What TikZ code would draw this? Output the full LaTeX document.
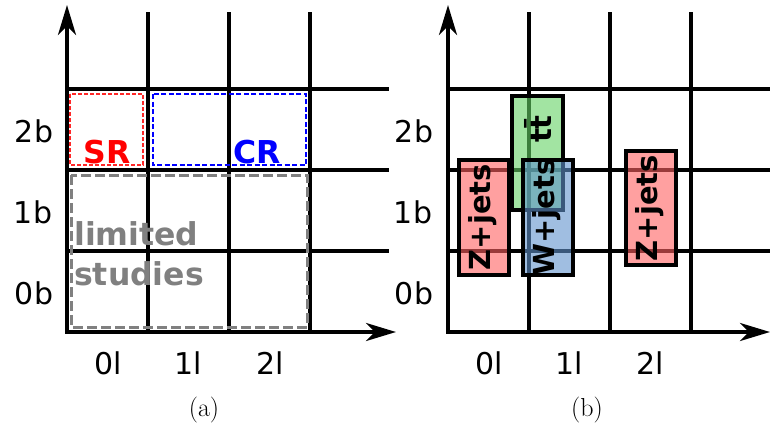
\documentclass[tikz,border=0pt]{standalone}
\usepackage{fontspec}
\newfontfamily\dv{DejaVu Sans}
\usetikzlibrary{arrows.meta}
\definecolor{zred}{RGB}{255,97,97}
\definecolor{ttg}{RGB}{100,210,100}
\definecolor{wblue}{RGB}{97,147,205}
\definecolor{srred}{RGB}{255,40,40}
\begin{document}
\begin{tikzpicture}[x=1pt,y=-1pt,
 gridline/.style={line width=4pt},
 axisline/.style={line width=4pt,line join=miter,{Stealth[length=30pt,width=18pt,inset=9pt]}-{Stealth[length=30pt,width=18pt,inset=9pt]}},
 axlab/.style={font=\dv\fontsize{30}{34}\selectfont,inner sep=0pt,anchor=base},
 caplab/.style={font=\fontsize{26}{30}\selectfont,inner sep=0pt,anchor=base},
 procbox/.style={draw=black,line width=4pt,fill opacity=0.6},
 proclab/.style={font=\dv\bfseries\fontsize{29}{33}\selectfont,rotate=90,inner sep=0pt},
 regionlab/.style={font=\dv\bfseries\fontsize{31.5}{35}\selectfont,inner sep=0pt,anchor=base},
]
\useasboundingbox (0,0) rectangle (770,426);
% ---------------- panel (a)
\foreach \x in {148,229,310} \draw[gridline] (\x,12) -- (\x,332);
\foreach \y in {89,170,251} \draw[gridline] (67,\y) -- (389,\y);
\coordinate (ay) at (67,5);
\coordinate (ao) at (67,332);
\coordinate (ax) at (396,332);
\draw[axisline] (ay) -- (ao) -- (ax);
\draw[srred, line width=1.3pt, dash pattern=on 4pt off 2pt] (70,94) rectangle (143,165);
\draw[blue, line width=1.4pt, dash pattern=on 5pt off 2.5pt] (153,94) rectangle (306,165);
\draw[gray, line width=3pt, dash pattern=on 10pt off 4pt] (71,175) rectangle (307,327);
\node[regionlab, text=red] (sr) at (107,163) {SR};
\node[regionlab, text=blue] (cr) at (257,163) {CR};
\node[regionlab, text=gray, anchor=base west] (lim) at (74,245) {limited};
\node[regionlab, text=gray, anchor=base west] (stu) at (74,285) {studies};
\node[axlab] (a2b) at (34,142) {2b};
\node[axlab] (a1b) at (33,223) {1b};
\node[axlab] (a0b) at (34,304) {0b};
\node[axlab] (a0l) at (108,374) {0l};
\node[axlab] (a1l) at (188,374) {1l};
\node[axlab] (a2l) at (270,374) {2l};
\node[caplab] (capa) at (204,416) {(a)};
% ---------------- panel (b)
\foreach \x in {529,610,691} \draw[gridline] (\x,12) -- (\x,332);
\foreach \y in {89,170,251} \draw[gridline] (448,\y) -- (770,\y);
\coordinate (by) at (448,5);
\coordinate (bo) at (448,332);
\coordinate (bx) at (770,332);
\draw[axisline] (by) -- (bo) -- (bx);
\draw[procbox, fill=zred] (459,160) rectangle (509,275);
\draw[procbox, fill=ttg] (512,96) rectangle (563,210);
\draw[procbox, fill=wblue] (523,160) rectangle (573,275);
\draw[procbox, fill=zred] (626,151) rectangle (676,265);
\node[proclab] (zj1) at (483,217) {Z+jets};
\node[proclab] (tt) at (538,129) {tt̄};
\node[proclab] (wj) at (547,217) {W+jets};
\node[proclab] (zj2) at (650,208) {Z+jets};
\node[axlab] (b2b) at (414,142) {2b};
\node[axlab] (b1b) at (413,223) {1b};
\node[axlab] (b0b) at (414,304) {0b};
\node[axlab] (b0l) at (489,374) {0l};
\node[axlab] (b1l) at (569,374) {1l};
\node[axlab] (b2l) at (650,374) {2l};
\node[caplab] (capb) at (587,416) {(b)};
\end{tikzpicture}
\end{document}
